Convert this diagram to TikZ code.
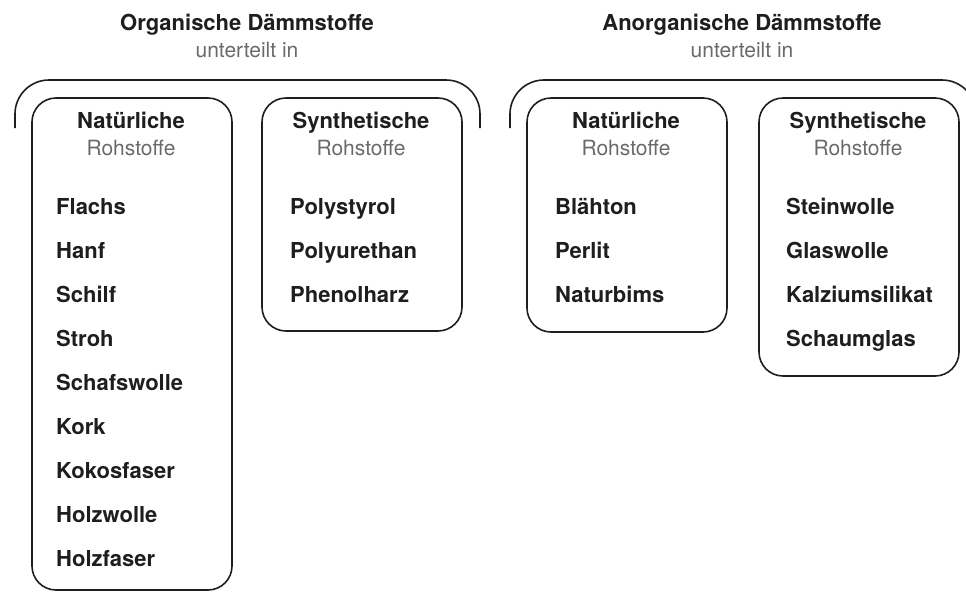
\documentclass[tikz,border=0pt]{standalone}
\usepackage{fontspec}
\setmainfont{TeX Gyre Heros}
\definecolor{ink}{HTML}{1E1E1E}
\definecolor{soft}{HTML}{6A6A6A}
\begin{document}
\begin{tikzpicture}[x=1pt,y=-1pt,
  line/.style={draw=ink,line width=1.6pt},
  grp/.style={line,rounded corners=34pt},
  cat/.style={line,rounded corners=24pt},
  ttl/.style={anchor=base,font=\fontsize{22}{26}\selectfont\bfseries,text=ink,inner sep=0pt},
  sub/.style={anchor=base,font=\fontsize{21}{25}\selectfont,text=soft,inner sep=0pt},
  item/.style={anchor=base west,font=\fontsize{22}{26}\selectfont\bfseries,text=ink,inner sep=0pt}]
\useasboundingbox (0,0) rectangle (966,592);
\clip (0,0) rectangle (966,592);
% group brackets
\draw[grp] (15,128) -- (15,80) -- (480,80) -- (480,128);
\draw[grp] (510,128) -- (510,80) -- (976,80) -- (976,128);
% category boxes
\draw[cat] (32,98) rectangle (232,590);
\draw[cat] (262,98) rectangle (462,331);
\draw[cat] (527,98) rectangle (727,332);
\draw[cat] (759,98) rectangle (959,376);
% titles
\node[ttl] (t1) at (247,30) {Organische Dämmstoffe};
\node[sub] (u1) at (247,57) {unterteilt in};
\node[ttl] (t2) at (742,30) {Anorganische Dämmstoffe};
\node[sub] (u2) at (742,57) {unterteilt in};
% headers
\node[ttl] (h1) at (131,128) {Natürliche};
\node[sub] (r1) at (131,155) {Rohstoffe};
\node[ttl] (h2) at (361,128) {Synthetische};
\node[sub] (r2) at (361,155) {Rohstoffe};
\node[ttl] (h3) at (626,128) {Natürliche};
\node[sub] (r3) at (626,155) {Rohstoffe};
\node[ttl] (h4) at (858,128) {Synthetische};
\node[sub] (r4) at (858,155) {Rohstoffe};
% items
\foreach \t [count=\i] in {Flachs,Hanf,Schilf,Stroh,Schafswolle,Kork,Kokosfaser,Holzwolle,Holzfaser}
  \node[item] (a\i) at (56,{214+44*(\i-1)}) {\t};
\foreach \t [count=\i] in {Polystyrol,Polyurethan,Phenolharz}
  \node[item] (b\i) at (290,{214+44*(\i-1)}) {\t};
\foreach \t [count=\i] in {Blähton,Perlit,Naturbims}
  \node[item] (c\i) at (555,{214+44*(\i-1)}) {\t};
\foreach \t [count=\i] in {Steinwolle,Glaswolle,Kalziumsilikat,Schaumglas}
  \node[item] (d\i) at (786,{214+44*(\i-1)}) {\t};
\end{tikzpicture}
\end{document}
